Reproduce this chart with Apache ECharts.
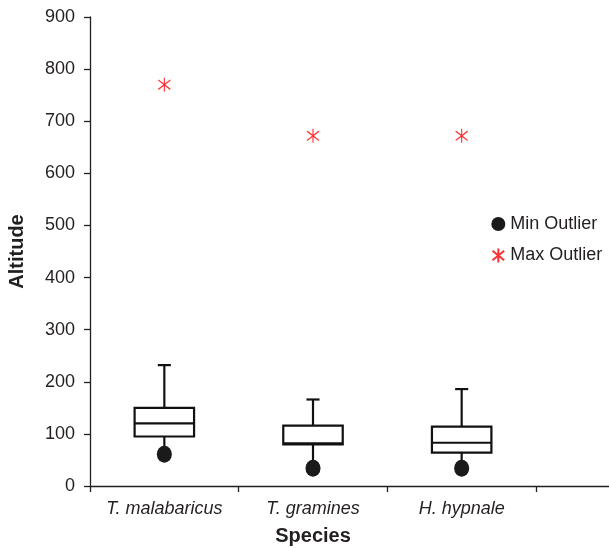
<!DOCTYPE html>
<html>
<head>
<meta charset="utf-8">
<script src="https://cdn.jsdelivr.net/npm/echarts@6/dist/echarts.min.js"></script>
<style>html,body{margin:0;padding:0;background:#fff;}#c{width:609px;height:548px;}</style>
</head>
<body>
<div id="c"></div>
<script>
const categories = ['T. malabaricus', 'T. gramines', 'H. hypnale'];
const whiskerLow = [70, 45, 45];
const q1Values = [95, 80, 64];
const medianValues = [120, 82, 83];
const q3Values = [150, 116, 114];
const whiskerHigh = [232, 166, 186];
const minOutliers = [61, 34, 34];
const maxOutliers = [770, 672, 672];
const yTicks = [0, 900, 100]; // min, max, interval

const ink = '#231f20';
const boxData = categories.map((c, i) => [i, whiskerLow[i], q1Values[i], medianValues[i], q3Values[i], whiskerHigh[i]]);
const asterisk = 'path://M5,0L5,12M0,2L10,10M0,10L10,2';

const chart = echarts.init(document.getElementById('c'), null, {renderer: 'canvas'});
chart.setOption({
  animation: false,
  backgroundColor: '#fff',
  textStyle: {fontFamily: 'Liberation Sans, Arial, sans-serif', color: ink},
  grid: [
    {left: 90, right: 73, top: 17, bottom: 62, containLabel: false, outerBoundsMode: 'none'},
    {left: 90, right: 0, top: 17, bottom: 62, containLabel: false, outerBoundsMode: 'none'}
  ],
  xAxis: [
    {
      type: 'category', gridIndex: 0, data: categories,
      axisLine: {show: false},
      axisTick: {show: true, length: 6, lineStyle: {color: ink, width: 1.3}},
      axisLabel: {fontSize: 18, fontStyle: 'italic', color: ink, margin: 14, interval: 0, hideOverlap: false},
      name: 'Species', nameLocation: 'middle', nameGap: 40,
      nameTextStyle: {fontSize: 20, fontWeight: 'bold', color: ink},
      splitLine: {show: false}
    },
    {
      type: 'value', gridIndex: 1, min: 0, max: 1,
      axisLine: {show: true, lineStyle: {color: ink, width: 1.3}},
      axisTick: {show: false}, axisLabel: {show: false}, splitLine: {show: false}
    }
  ],
  yAxis: [
    {
      type: 'value', gridIndex: 0, min: yTicks[0], max: yTicks[1], interval: yTicks[2],
      axisLine: {show: true, lineStyle: {color: ink, width: 1.3}},
      axisTick: {show: true, length: 6, lineStyle: {color: ink, width: 1.3}},
      axisLabel: {fontSize: 18, color: ink, margin: 15},
      splitLine: {show: false},
      name: 'Altitude', nameLocation: 'middle', nameGap: 63, nameRotate: 90,
      nameTextStyle: {fontSize: 20, fontWeight: 'bold', color: ink}
    },
    {type: 'value', gridIndex: 1, show: false, min: 0, max: 1}
  ],
  legend: {
    orient: 'vertical', left: 485, top: 210,
    itemWidth: 14, itemHeight: 14, itemGap: 13,
    textStyle: {fontSize: 18, color: ink},
    data: ['Min Outlier', 'Max Outlier']
  },
  series: [
    {
      type: 'custom', name: 'box', xAxisIndex: 0, yAxisIndex: 0,
      data: boxData,
      encode: {x: 0, y: [1, 2, 3, 4, 5]},
      renderItem: function (params, api) {
        const x = api.value(0);
        const lo = api.coord([x, api.value(1)]);
        const q1 = api.coord([x, api.value(2)]);
        const med = api.coord([x, api.value(3)]);
        const q3 = api.coord([x, api.value(4)]);
        const hi = api.coord([x, api.value(5)]);
        const bw = api.size([1, 0])[0] * 0.4;
        const cap = bw * 0.11;
        const cx = lo[0];
        const st = {stroke: '#111', lineWidth: 2.2, fill: null};
        return {
          type: 'group',
          children: [
            {type: 'line', shape: {x1: cx, y1: q3[1], x2: cx, y2: hi[1]}, style: st},
            {type: 'line', shape: {x1: cx - cap, y1: hi[1], x2: cx + cap, y2: hi[1]}, style: st},
            {type: 'line', shape: {x1: cx, y1: q1[1], x2: cx, y2: lo[1]}, style: st},
            {type: 'rect', shape: {x: cx - bw / 2, y: q3[1], width: bw, height: q1[1] - q3[1]}, style: {stroke: '#111', lineWidth: 2.2, fill: '#fff'}},
            {type: 'line', shape: {x1: cx - bw / 2, y1: med[1], x2: cx + bw / 2, y2: med[1]}, style: st}
          ]
        };
      },
      z: 2
    },
    {
      type: 'scatter', name: 'Min Outlier', xAxisIndex: 0, yAxisIndex: 0,
      data: minOutliers.map((v, i) => [i, v]),
      symbol: 'circle', symbolSize: [15, 17],
      itemStyle: {color: '#1a1a1a', opacity: 1},
      z: 3
    },
    {
      type: 'scatter', name: 'Max Outlier', xAxisIndex: 0, yAxisIndex: 0,
      data: maxOutliers.map((v, i) => [i, v]),
      symbol: asterisk, symbolSize: [12, 14],
      itemStyle: {color: 'none', borderColor: '#ff3030', borderWidth: 1.2, opacity: 1},
      z: 3
    }
  ]
});
</script>
</body>
</html>
